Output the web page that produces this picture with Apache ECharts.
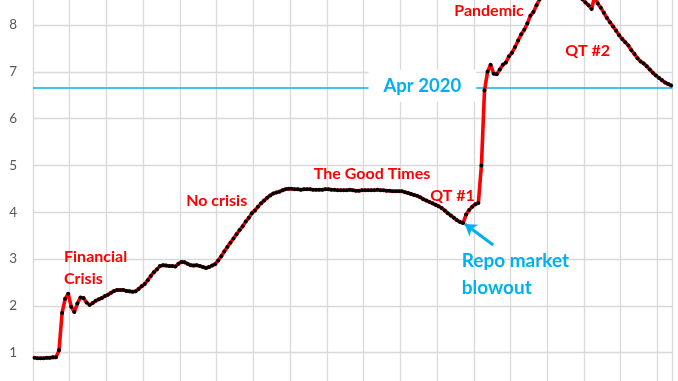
<!DOCTYPE html>
<html><head><meta charset="utf-8">
<script src="https://cdn.jsdelivr.net/npm/echarts@6/dist/echarts.min.js"></script>
<style>html,body{margin:0;padding:0;background:#fff}#c{width:678px;height:381px}</style>
</head><body><div id="c"></div>
<script>
// Fed balance sheet, trillions USD, monthly (mid-month)
const startYear = 2008;
const v2008 = [0.89, 0.88, 0.88, 0.88, 0.89, 0.89, 0.90, 0.90, 1.05, 1.85, 2.15, 2.26];
const v2009 = [1.98, 1.87, 2.05, 2.18, 2.17, 2.07, 2.02, 2.06, 2.11, 2.14, 2.17, 2.21];
const v2010 = [2.24, 2.28, 2.32, 2.34, 2.34, 2.34, 2.32, 2.31, 2.30, 2.31, 2.36, 2.42];
const v2011 = [2.47, 2.55, 2.64, 2.72, 2.78, 2.85, 2.87, 2.86, 2.85, 2.85, 2.84, 2.90];
const v2012 = [2.94, 2.93, 2.90, 2.87, 2.86, 2.87, 2.85, 2.83, 2.81, 2.83, 2.86, 2.89];
const v2013 = [2.97, 3.06, 3.16, 3.26, 3.35, 3.44, 3.53, 3.62, 3.70, 3.80, 3.88, 3.98];
const v2014 = [4.04, 4.12, 4.19, 4.25, 4.31, 4.36, 4.40, 4.42, 4.44, 4.47, 4.49, 4.50];
const v2015 = [4.50, 4.49, 4.49, 4.48, 4.49, 4.49, 4.49, 4.48, 4.48, 4.48, 4.48, 4.49];
const v2016 = [4.49, 4.48, 4.48, 4.47, 4.47, 4.47, 4.47, 4.48, 4.47, 4.46, 4.46, 4.47];
const v2017 = [4.47, 4.47, 4.47, 4.47, 4.48, 4.47, 4.47, 4.46, 4.46, 4.45, 4.45, 4.45];
const v2018 = [4.45, 4.43, 4.41, 4.39, 4.37, 4.35, 4.32, 4.28, 4.25, 4.22, 4.19, 4.16];
const v2019 = [4.13, 4.09, 4.04, 3.98, 3.93, 3.88, 3.83, 3.79, 3.77, 3.95, 4.05, 4.12];
const v2020 = [4.17, 4.20, 5.00, 6.60, 7.00, 7.15, 6.96, 6.95, 7.05, 7.15, 7.20, 7.33];
const v2021 = [7.41, 7.53, 7.67, 7.80, 7.90, 8.03, 8.20, 8.28, 8.42, 8.55, 8.65, 8.75];
const v2022 = [8.77, 8.87, 8.92, 8.95, 8.91, 8.91, 8.90, 8.87, 8.80, 8.75, 8.66, 8.55];
const v2023 = [8.48, 8.42, 8.34, 8.62, 8.46, 8.37, 8.26, 8.15, 8.06, 7.97, 7.88, 7.78];
const v2024 = [7.70, 7.63, 7.56, 7.46, 7.38, 7.29, 7.22, 7.18, 7.12, 7.05, 6.98, 6.92];
const v2025 = [6.87, 6.82, 6.77, 6.74, 6.71];
const yearValues = [v2008, v2009, v2010, v2011, v2012, v2013, v2014, v2015, v2016,
                    v2017, v2018, v2019, v2020, v2021, v2022, v2023, v2024, v2025];

// Reference level line
const levelValue = 6.66;
const levelLabel = 'Apr 2020';

// Annotations (text and anchor in data coordinates)
const annotTexts = ['Financial\nCrisis', 'No crisis', 'The Good Times', 'QT #1', 'Pandemic', 'QT #2'];
const annotX = [2008.844, 2013.0, 2017.23, 2019.42, 2020.415, 2023.10];
const annotY = [2.81, 4.24, 4.82, 4.35, 8.30, 7.44];
const repoText = 'Repo market\nblowout';
const repoAnchor = [2019.67, 2.68];
const arrowFrom = [2020.53, 3.30];
const arrowTo = [2019.76, 3.75];
const levelLabelAnchor = [2018.60, 6.70];

const seriesData = [];
yearValues.forEach((arr, yi) => {
  arr.forEach((v, m) => {
    seriesData.push([startYear + yi + (m + 0.5) / 12, v]);
  });
});

const FONT = 'Lato, Carlito, "Liberation Sans", sans-serif';
const RED = '#FF0000';
const BLUE = '#00B0F0';

const chart = echarts.init(document.getElementById('c'), null, {renderer: 'canvas'});
chart.setOption({
  animation: false,
  backgroundColor: '#ffffff',
  grid: {left: 33, right: 5.5, top: -21.8, bottom: -18.5, containLabel: false, outerBoundsMode: 'none'},
  xAxis: {
    type: 'value', min: 2008, max: 2025.41, interval: 1,
    axisLine: {show: false}, axisTick: {show: false}, axisLabel: {show: false},
    splitLine: {show: true, lineStyle: {color: '#d9d9d9', width: 1.3}}
  },
  yAxis: {
    type: 'value', min: 0, max: 9, interval: 1,
    axisLine: {show: false}, axisTick: {show: false},
    axisLabel: {show: true, margin: 16, color: '#595959', fontSize: 13.5, fontFamily: FONT},
    splitLine: {show: true, lineStyle: {color: '#d9d9d9', width: 1.3}}
  },
  series: [
    {
      type: 'line', data: [], z: 1, silent: true,
      markLine: {
        silent: true, symbol: ['none', 'none'], animation: false,
        lineStyle: {color: BLUE, width: 1.6, type: 'solid'},
        label: {show: false},
        data: [{yAxis: levelValue}]
      }
    },
    {
      type: 'line', data: [], z: 3, silent: true,
      markLine: {
        silent: true, animation: false,
        symbol: ['none', 'arrow'], symbolSize: 11,
        lineStyle: {color: BLUE, width: 3, type: 'solid'},
        label: {show: false},
        data: [[{coord: arrowFrom}, {coord: arrowTo}]]
      },
      markPoint: {
        silent: true, animation: false, symbol: 'circle', symbolSize: 0,
        data: [
          {coord: levelLabelAnchor, value: levelLabel,
           label: {show: true, position: 'inside', formatter: levelLabel, color: BLUE,
                   fontSize: 18.5, fontWeight: 'bold', fontFamily: FONT,
                   backgroundColor: '#ffffff', padding: [7, 15, 6, 15],
                   align: 'center', verticalAlign: 'middle'}},
          {coord: repoAnchor, value: repoText,
           label: {show: true, position: 'inside', formatter: repoText, color: BLUE,
                   fontSize: 19, fontWeight: 'bold', fontFamily: FONT, lineHeight: 27,
                   align: 'left', verticalAlign: 'middle'}}
        ]
      }
    },
    {
      type: 'line', data: seriesData, z: 5,
      showSymbol: true, showAllSymbol: true, symbol: 'circle', symbolSize: 4,
      itemStyle: {color: '#000000', borderWidth: 0},
      lineStyle: {color: RED, width: 3.6},
      clip: true,
      markPoint: {
        silent: true, animation: false, symbol: 'circle', symbolSize: 0,
        data: annotTexts.map((t, i) => ({
          coord: [annotX[i], annotY[i]], value: t,
          label: {show: true, position: 'inside', formatter: t, color: RED,
                  fontSize: 16, fontWeight: 'bold', fontFamily: FONT, lineHeight: 22,
                  align: i === 0 ? 'left' : 'center', verticalAlign: 'middle'}
        }))
      }
    }
  ]
});
</script>
</body></html>
